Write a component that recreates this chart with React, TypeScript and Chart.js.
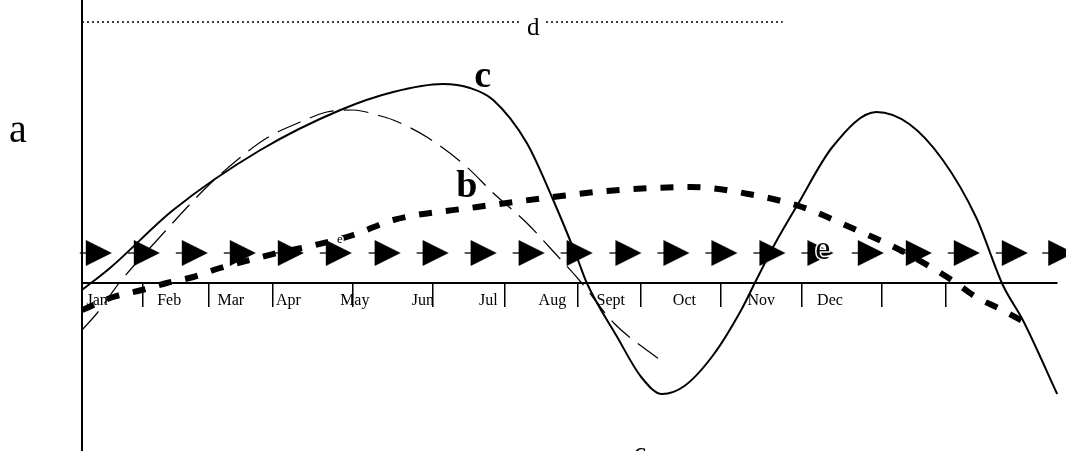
import React, { useEffect, useRef } from 'react';
import { Chart, registerables } from 'chart.js';

Chart.register(...registerables);

// x axis: month labels and separate tick-mark positions (in chart x units)
const MONTHS = ['Jan', 'Feb', 'Mar', 'Apr', 'May', 'Jun', 'Jul', 'Aug', 'Sept', 'Oct', 'Nov', 'Dec'];
const MONTH_LABEL_POS = [0.19, 1.09, 1.86, 2.58, 3.41, 4.26, 5.08, 5.88, 6.61, 7.53, 8.49, 9.35];
const TICK_MARK_POS = [0.76, 1.58, 2.38, 3.39, 4.39, 5.29, 6.2, 6.99, 7.99, 9.0, 10.0, 10.8];

// series c (solid)
const C_X = [0, 0.35, 1.14, 2.23, 3.23, 3.89, 4.51, 4.85, 5.14, 5.56, 5.89, 6.19, 6.31, 6.69, 6.99, 7.25, 7.53, 7.9, 8.24, 8.41, 8.66, 8.95, 9.38, 9.93, 10.34, 10.76, 11.18, 11.51, 11.76, 12.19];
const C_Y = [-0.7, 1.5, 7.3, 13.3, 17.3, 19.1, 19.9, 19.5, 18.3, 14.0, 8.3, 2.5, 0, -5.4, -9.4, -11.1, -10.3, -7.1, -2.7, 0, 3.9, 7.9, 13.6, 17.1, 15.9, 12.3, 6.5, -0.2, -3.7, -11.1];

// thin dashed series
const DASHED_X = [0, 0.19, 0.475, 0.94, 1.56, 1.94, 2.31, 2.73, 3.06, 3.39, 3.69, 3.89, 4.31, 4.81, 5.14, 5.56, 5.875, 6.225, 6.66, 7.225];
const DASHED_Y = [-4.7, -3.0, 0.1, 4.3, 9.6, 12.3, 14.5, 16.1, 17.1, 17.3, 16.8, 16.3, 14.6, 11.6, 9.0, 6.0, 3.3, 0.2, -4.1, -7.7];

// series b (thick dotted)
const B_X = [0, 0.39, 0.75, 1.06, 1.39, 1.725, 2.1, 2.44, 2.81, 3.39, 3.89, 4.94, 5.89, 6.56, 7.61, 8.33, 9.0, 9.625, 10.25, 10.89, 11.175, 11.475, 11.85];
const B_Y = [-2.7, -1.4, -0.7, 0, 0.6, 1.5, 2.3, 3.0, 3.6, 4.8, 6.3, 7.6, 8.6, 9.2, 9.6, 8.9, 7.6, 5.5, 3.2, 0.2, -1.4, -2.6, -4.2];

// series e (triangle markers)
const E_X = [0.21, 0.81, 1.41, 2.01, 2.61, 3.21, 3.82, 4.42, 5.02, 5.62, 6.22, 6.83, 7.43, 8.03, 8.63, 9.23, 9.86, 10.46, 11.06, 11.66, 12.24];
const E_Y = [3.0, 3.0, 3.0, 3.0, 3.0, 3.0, 3.0, 3.0, 3.0, 3.0, 3.0, 3.0, 3.0, 3.0, 3.0, 3.0, 3.0, 3.0, 3.0, 3.0, 3.0];

// series d (dotted horizontal line, broken around its label)
const D_X = [0, 5.5, 5.65, 5.8, 8.76];
const D_Y = [26.1, 26.1, null, 26.1, 26.1];

// free text labels (chart units)
const TEXT_TEXT = ['a', 'c', 'b', 'e', 'e', 'd', '6'];
const TEXT_X = [-0.8, 5.01, 4.81, 9.26, 3.225, 5.64, 6.975];
const TEXT_Y = [14.1, 19.6, 8.6, 2.4, 4.0, 24.8, -18.3];
const TEXT_SIZE = [40, 38, 38, 34, 13, 25, 28];
const TEXT_BOLD = [false, true, true, false, false, false, false];
const TEXT_HALO = [false, false, false, true, true, false, false];

const X_MIN = 0;
const X_MAX = 12.1875;
const Y_MIN = -16.8;
const Y_MAX = 28.3;

const SERIF = "'Liberation Serif', 'Times New Roman', serif";

const pts = (xs: number[], ys: (number | null)[]) => xs.map((x, i) => ({ x, y: ys[i] }));

export default function App() {
  const ref = useRef<HTMLCanvasElement>(null);

  useEffect(() => {
    const canvas = ref.current;
    if (!canvas) return;

    const marker = document.createElement('canvas');
    marker.width = 40;
    marker.height = 28;
    const m = marker.getContext('2d')!;
    m.strokeStyle = '#000';
    m.lineWidth = 1.3;
    m.beginPath();
    m.moveTo(1, 14);
    m.lineTo(8, 14);
    m.stroke();
    m.fillStyle = '#000';
    m.beginPath();
    m.moveTo(7, 1);
    m.lineTo(33, 14);
    m.lineTo(7, 27);
    m.closePath();
    m.fill();

    const textPlugin = {
      id: 'textLabels',
      afterDraw(chart: any) {
        const { ctx, scales } = chart;
        ctx.save();
        ctx.textAlign = 'center';
        ctx.textBaseline = 'alphabetic';
        TEXT_TEXT.forEach((t, i) => {
          const px = scales.x.getPixelForValue(TEXT_X[i]);
          const py = scales.y.getPixelForValue(TEXT_Y[i]);
          ctx.font = `${TEXT_BOLD[i] ? 'bold ' : ''}${TEXT_SIZE[i]}px ${SERIF}`;
          if (TEXT_HALO[i]) {
            ctx.strokeStyle = '#fff';
            ctx.lineWidth = 3;
            ctx.lineJoin = 'round';
            ctx.strokeText(t, px, py);
          }
          ctx.fillStyle = '#000';
          ctx.fillText(t, px, py);
        });
        ctx.restore();
      },
    };

    const chart = new Chart(canvas, {
      type: 'line',
      data: {
        datasets: [
          {
            label: 'c',
            data: pts(C_X, C_Y),
            borderColor: '#000',
            borderWidth: 2,
            pointRadius: 0,
            cubicInterpolationMode: 'monotone',
            clip: false,
          },
          {
            label: 'dashed',
            data: pts(DASHED_X, DASHED_Y),
            borderColor: '#000',
            borderWidth: 1.2,
            borderDash: [25, 10],
            pointRadius: 0,
            cubicInterpolationMode: 'monotone',
            clip: false,
          },
          {
            label: 'b',
            data: pts(B_X, B_Y),
            borderColor: '#000',
            borderWidth: 6,
            borderDash: [13, 14],
            borderCapStyle: 'butt',
            pointRadius: 0,
            cubicInterpolationMode: 'monotone',
            clip: false,
          },
          {
            label: 'e',
            data: pts(E_X, E_Y),
            showLine: false,
            pointStyle: marker,
            pointRadius: 14,
            pointBackgroundColor: '#000',
            pointBorderWidth: 0,
            clip: false,
          },
          {
            label: 'd',
            data: pts(D_X, D_Y),
            borderColor: '#000',
            borderWidth: 1.5,
            borderDash: [2, 3],
            pointRadius: 0,
            spanGaps: false,
            clip: false,
          },
        ],
      },
      options: {
        animation: false,
        responsive: true,
        maintainAspectRatio: false,
        events: [],
        layout: { autoPadding: false, padding: { left: 82, right: 9, top: 0, bottom: 0 } },
        plugins: {
          legend: { display: false },
          tooltip: { enabled: false },
        },
        scales: {
          x: {
            type: 'linear',
            min: X_MIN,
            max: X_MAX,
            position: { y: 0 },
            border: { display: true, color: '#000', width: 2 },
            grid: {
              display: true,
              drawOnChartArea: false,
              drawTicks: true,
              tickLength: 23,
              color: '#000',
              lineWidth: 1.5,
            },
            ticks: { display: false, autoSkip: false },
            afterBuildTicks: (scale: any) => {
              scale.ticks = TICK_MARK_POS.map((v) => ({ value: v }));
            },
          },
          xLabels: {
            type: 'linear',
            axis: 'x',
            min: X_MIN,
            max: X_MAX,
            position: { y: 0 },
            border: { display: false },
            grid: { display: false, drawTicks: false },
            ticks: {
              autoSkip: false,
              maxRotation: 0,
              minRotation: 0,
              padding: 8,
              color: '#000',
              font: { family: SERIF, size: 16 },
              callback: (_v: any, i: number) => MONTHS[i],
            },
            afterBuildTicks: (scale: any) => {
              scale.ticks = MONTH_LABEL_POS.map((v) => ({ value: v }));
            },
          },
          y: {
            type: 'linear',
            min: Y_MIN,
            max: Y_MAX,
            position: { x: 0 },
            border: { display: true, color: '#000', width: 2 },
            grid: { display: false, drawTicks: false },
            ticks: { display: false },
          },
        },
      } as any,
      plugins: [textPlugin],
    });

    return () => chart.destroy();
  }, []);

  return (
    <div style={{ position: 'fixed', left: 0, top: 0, width: 1066, height: 451, background: '#fff' }}>
      <canvas ref={ref} />
    </div>
  );
}
